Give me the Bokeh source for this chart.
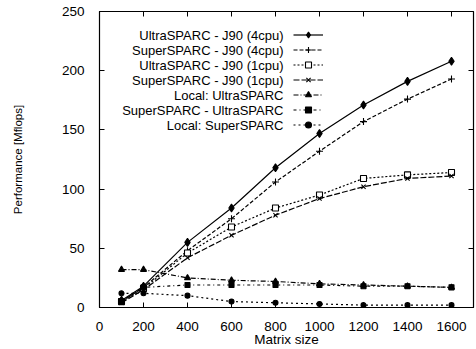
from bokeh.plotting import figure
from bokeh.models import (Range1d, FixedTicker, LinearAxis, Legend, LegendItem, Label)
from bokeh.embed import file_html
from bokeh.resources import INLINE

# ---------------- data ----------------
sizes = [100, 200, 400, 600, 800, 1000, 1200, 1400, 1600]
ultra_j90_4cpu = [6, 18, 55, 84, 118, 147, 171, 191, 208]
super_j90_4cpu = [5, 17, 48, 75, 106, 132, 157, 176, 193]
ultra_j90_1cpu = [5, 16, 46, 68, 84, 95, 109, 112, 114]
super_j90_1cpu = [4, 15, 42, 61, 78, 92, 102, 109, 111]
local_ultra = [32, 32, 25, 23, 22, 20, 19, 18, 17]
super_ultra = [5, 17, 19, 19, 19, 19, 18, 18, 17]
local_super = [12, 12, 10, 5, 4, 3, 2, 2, 2]

series_names = ["UltraSPARC - J90 (4cpu)", "SuperSPARC - J90 (4cpu)",
                "UltraSPARC - J90 (1cpu)", "SuperSPARC - J90 (1cpu)",
                "Local: UltraSPARC", "SuperSPARC - UltraSPARC", "Local: SuperSPARC"]
series_values = [ultra_j90_4cpu, super_j90_4cpu, ultra_j90_1cpu, super_j90_1cpu,
                 local_ultra, super_ultra, local_super]

x_ticks = [0, 200, 400, 600, 800, 1000, 1200, 1400, 1600]
y_ticks = [0, 50, 100, 150, 200, 250]
X_MAX, Y_MAX = 1700, 250

# ---------------- styles ----------------
styles = [
    dict(dash="solid", marker="diamond", size=8, fill="black"),
    dict(dash="4 2", marker="cross", size=7, fill="black"),
    dict(dash="2 2", marker="square", size=6, fill="white"),
    dict(dash="6 2", marker="x", size=6, fill="black"),
    dict(dash="5 2 1 2", marker="triangle", size=6, fill="black"),
    dict(dash="3 3 1 3", marker="square", size=5, fill="black"),
    dict(dash="2 3", marker="circle", size=5, fill="black"),
]

FONT = "Liberation Sans"
FRAME_W, FRAME_H = 374, 296

p = figure(output_backend="svg", toolbar_location=None,
           frame_width=FRAME_W, frame_height=FRAME_H,
           x_range=Range1d(0, X_MAX), y_range=Range1d(0, Y_MAX),
           min_border_left=99, min_border_right=3, min_border_top=11,
           min_border_bottom=42)
p.background_fill_color = "white"
p.border_fill_color = "white"
p.outline_line_color = "black"
p.outline_line_width = 1.2
p.xgrid.visible = False
p.ygrid.visible = False

for ax in (p.xaxis[0], p.yaxis[0]):
    ax.major_tick_in = 5
    ax.major_tick_out = 0
    ax.minor_tick_line_color = None
    ax.axis_line_color = "black"
    ax.major_label_text_font = FONT
    ax.major_label_text_font_size = "13.5px"
    ax.major_label_text_color = "black"
    ax.axis_label_text_font = FONT
    ax.axis_label_text_font_style = "normal"
    ax.axis_label_text_color = "black"

p.xaxis[0].ticker = FixedTicker(ticks=x_ticks)
p.yaxis[0].ticker = FixedTicker(ticks=y_ticks)
p.xaxis[0].axis_label = "Matrix size"
p.xaxis[0].axis_label_text_font_size = "13.5px"
p.xaxis[0].major_label_standoff = 14
p.xaxis[0].axis_label_standoff = -2
p.yaxis[0].axis_label = "Performance [Mflops]"
p.yaxis[0].axis_label_text_font_size = "11.5px"
p.yaxis[0].major_label_standoff = 15
p.yaxis[0].axis_label_standoff = 35

# mirrored inward ticks on top and right
for loc, ticks in (("above", x_ticks), ("right", y_ticks)):
    ax = LinearAxis(ticker=FixedTicker(ticks=ticks))
    ax.major_tick_in = 5
    ax.major_tick_out = 0
    ax.minor_tick_line_color = None
    ax.major_label_text_font_size = "0px"
    ax.major_label_standoff = 0
    ax.axis_line_color = None
    p.add_layout(ax, loc)

items = []
for name, vals, st in zip(series_names, series_values, styles):
    lr = p.line(sizes, vals, line_color="black", line_width=1.2, line_dash=st["dash"])
    sr = p.scatter(sizes, vals, marker=st["marker"], size=st["size"],
                   line_color="black", fill_color=st["fill"], line_width=1.1)
    items.append(LegendItem(label=" ", renderers=[lr, sr]))

# legend samples (glyph column); text drawn right-aligned to their left
ROW_H = 15
LEG_TOP = 16          # px below frame top
SAMPLE_X = 194        # px from frame left
legend = Legend(items=items, location=(SAMPLE_X, FRAME_H - LEG_TOP - ROW_H * len(items)),
                glyph_width=30, glyph_height=ROW_H, label_height=ROW_H, label_width=0,
                label_standoff=0, spacing=0, padding=0, margin=0,
                border_line_color=None, background_fill_alpha=0,
                label_text_font_size="6px")
p.add_layout(legend)

TEXT_RIGHT = 184      # px from frame left
for i, name in enumerate(series_names):
    sy = LEG_TOP + ROW_H * i + ROW_H / 2
    p.add_layout(Label(x=TEXT_RIGHT * X_MAX / FRAME_W, y=(FRAME_H - sy) * Y_MAX / FRAME_H,
                       text=name, text_align="right", text_baseline="middle",
                       text_font=FONT, text_font_size="13px", text_color="black"))

open("out.html", "w").write(file_html(p, INLINE))
